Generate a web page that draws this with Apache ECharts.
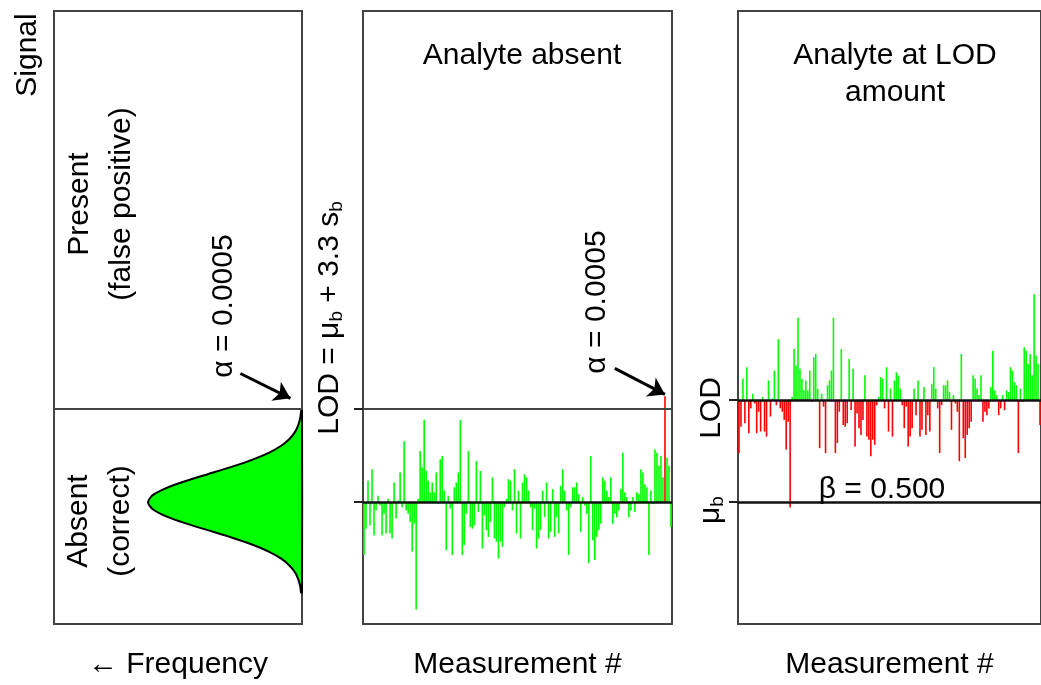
<!DOCTYPE html>
<html>
<head>
<meta charset="utf-8">
<script src="https://cdn.jsdelivr.net/npm/echarts@6/dist/echarts.min.js"></script>
<style>
html, body { margin: 0; padding: 0; background: #fff; }
#main { width: 1041px; height: 685px; }
</style>
</head>
<body>
<div id="main"></div>
<script>
// blank measurements, in units of s_b, relative to mu_b
var measurements = [
  -1.87, -0.94, 0.76, -0.82, 1.17, -1.17, -0.29, 0.23, -0.12, -1.17,
  -0.41, -1.11, 0.12, -1.11, -1.29, 0.70, -0.58, 0.06, 1.05, -0.18,
  2.16, -0.29, -0.41, -0.70, -1.75, -0.76, -3.80, 0.12, 1.81, 1.23,
  2.92, 1.11, 0.76, 0.35, 0.70, 0.35, 1.05, -0.06, 1.52, 1.64,
  0.41, -1.70, 0.23, -0.23, -1.87, 0.53, 0.70, 1.05, 2.92, -1.87,
  -1.52, -0.41, 1.81, -0.88, -0.94, -0.82, 1.46, -0.35, 1.11, -1.64,
  -0.47, -0.99, -1.23, -0.70, 0.88, -1.29, -1.40, -1.99, -1.40, -1.58,
  -0.18, 0.12, 0.82, 0.76, -0.29, 1.17, -1.11, 0.41, -1.29, 0.70,
  0.99, 0.88, 0.41, -0.18, -0.99, -0.23, -1.64, -1.29, -0.99, 0.41,
  -0.53, 0.70, -1.29, -1.05, 0.47, -1.23, -0.53, -1.11, 0.58, 1.17,
  0.41, -0.29, -1.87, -0.18, 0.53, 0.53, 0.70, 0.29, -1.05, 0.18,
  -0.12, -0.41, -2.16, 1.64, -1.35, -2.05, -1.23, -0.99, -0.76, 0.88,
  0.76, 0.41, 0.18, 0.88, -0.76, -0.41, -0.53, -0.29, 0.47, 1.75,
  0.35, 0.18, -0.53, -0.29, 0.18, -0.35, 0.35, 0.29, 1.17, 1.05,
  0.64, 0.53, -1.87, 0.41, -0.06, 1.87, 1.75, 1.29, 1.64, 0.88,
  3.75, 1.58, 1.29, -0.88
];
var lodSigma = 3.3;     // LOD = mu_b + 3.3 s_b
var lodShift = 3.6;     // panel 3: mu_b line below the LOD line

// blank distribution (signal in s_b, relative frequency)
var curveSignal = [-3.2, -3, -2.75, -2.5, -2.25, -2, -1.75, -1.5, -1.25, -1, -0.75, -0.5, -0.25, 0,
                   0.25, 0.5, 0.75, 1, 1.25, 1.5, 1.75, 2, 2.25, 2.5, 2.75, 3, 3.25];
var curveFreq = [0.006, 0.011, 0.023, 0.044, 0.08, 0.135, 0.216, 0.325, 0.458, 0.607, 0.755, 0.882, 0.969, 1,
                 0.969, 0.882, 0.755, 0.607, 0.458, 0.325, 0.216, 0.135, 0.08, 0.044, 0.023, 0.011, 0.005];

var indices = measurements.map(function (v, i) { return i + 1; });

var FONT = '"Liberation Sans", Arial, sans-serif';
var GREEN = '#00ff00', RED = '#ff0000';

// layout: pixel per s_b and baselines
var gridTop = 11, gridBottom = 630, pxSigma = 28.5, meanY = 507, lodY3 = 404;
var y12 = { min: -(gridBottom - meanY) / pxSigma, max: (meanY - gridTop) / pxSigma };
var y3 = { min: -(gridBottom - lodY3) / pxSigma, max: (lodY3 - gridTop) / pxSigma };

var dom = document.getElementById('main');
var chart = echarts.init(dom, null, { renderer: 'canvas' });

function yAx(idx, r, ticks) {
    return {
        type: 'value', gridIndex: idx, min: r.min, max: r.max,
        axisLine: { show: false },
        axisLabel: { show: false },
        splitLine: { show: false },
        axisTick: ticks ? { show: true, customValues: ticks, length: 9, lineStyle: { color: '#222', width: 2 } } : { show: false }
    };
}
function xName(t) {
    return { name: t, nameLocation: 'middle', nameGap: 26, nameTextStyle: { fontSize: 30, fontFamily: FONT, color: '#000', verticalAlign: 'top' } };
}

var rich = {
    m: { fontSize: 30, fontFamily: FONT, color: '#000', lineHeight: 34, verticalAlign: 'middle' },
    s: { fontSize: 19, fontFamily: FONT, color: '#000', lineHeight: 20, verticalAlign: 'middle', padding: [14, 0, 0, 0] }
};
function vtext(x, y, text, useRich, lh) {
    var st = { text: text, x: 0, y: 0, align: 'center', verticalAlign: 'middle', fill: '#000', font: '30px ' + FONT, lineHeight: lh || 34 };
    if (useRich) st.rich = rich;
    return { type: 'text', x: x, y: y, rotation: Math.PI / 2, silent: true, style: st };
}
function htext(x, y, text, lh) {
    return { type: 'text', x: x, y: y, silent: true,
             style: { text: text, x: 0, y: 0, align: 'center', verticalAlign: 'middle', fill: '#000', font: '30px ' + FONT, lineHeight: lh || 34 } };
}

var arrowStyle = { color: '#000', width: 3, type: 'solid' };

var option = {
    animation: false,
    backgroundColor: '#fff',
    grid: [
        { left: 54, top: gridTop, width: 248, height: gridBottom - gridTop, show: true, borderColor: '#444', borderWidth: 2 },
        { left: 363, top: gridTop, width: 309, height: gridBottom - gridTop, show: true, borderColor: '#444', borderWidth: 2 },
        { left: 738, top: gridTop, width: 309, height: gridBottom - gridTop, show: true, borderColor: '#444', borderWidth: 2 }
    ],
    xAxis: [
        Object.assign({ type: 'value', gridIndex: 0, inverse: true, min: 0, max: 1.61,
            axisLine: { show: false }, axisTick: { show: false }, axisLabel: { show: false }, splitLine: { show: false } }, xName('\u2190 Frequency')),
        Object.assign({ type: 'category', gridIndex: 1, data: indices,
            axisLine: { show: false }, axisTick: { show: false }, axisLabel: { show: false } }, xName('Measurement #')),
        Object.assign({ type: 'category', gridIndex: 2, data: indices,
            axisLine: { show: false }, axisTick: { show: false }, axisLabel: { show: false } }, xName('Measurement #'))
    ],
    yAxis: [
        yAx(0, y12, null),
        yAx(1, y12, [0, lodSigma]),
        yAx(2, y3, [0, -lodShift])
    ],
    series: [
        {
            type: 'custom', xAxisIndex: 0, yAxisIndex: 0,
            data: curveSignal.map(function (s, i) { return [curveFreq[i], s]; }),
            renderItem: function (params, api) {
                if (params.dataIndex !== 0) return null;
                var pts = [api.coord([0, curveSignal[0]])];
                for (var i = 0; i < curveSignal.length; i++) pts.push(api.coord([curveFreq[i], curveSignal[i]]));
                pts.push(api.coord([0, curveSignal[curveSignal.length - 1]]));
                return { type: 'polygon', shape: { points: pts, smooth: 0.25 },
                         style: { fill: GREEN, stroke: '#000', lineWidth: 2 } };
            },
            markLine: {
                silent: true, symbol: ['none', 'none'], label: { show: false },
                data: [
                    { yAxis: lodSigma, lineStyle: { color: '#444', width: 2, type: 'solid' } },
                    [{ coord: [0.40, 4.56], symbol: 'none', lineStyle: arrowStyle },
                     { coord: [0.075, 3.68], symbol: 'arrow', symbolSize: 16 }]
                ]
            }
        },
        {
            type: 'bar', xAxisIndex: 1, yAxisIndex: 1, data: measurements, barWidth: 1.6,
            itemStyle: { color: function (p) { return p.value > lodSigma ? RED : GREEN; } },
            markLine: {
                silent: true, symbol: ['none', 'none'], label: { show: false },
                data: [
                    { yAxis: lodSigma, lineStyle: { color: '#444', width: 2, type: 'solid' } },
                    { yAxis: 0, lineStyle: { color: '#111', width: 2.5, type: 'solid' } },
                    [{ coord: [125, 4.74], symbol: 'none', lineStyle: arrowStyle },
                     { coord: [150, 3.82], symbol: 'arrow', symbolSize: 16 }]
                ]
            }
        },
        {
            type: 'bar', xAxisIndex: 2, yAxisIndex: 2, data: measurements, barWidth: 1.6,
            itemStyle: { color: function (p) { return p.value < 0 ? RED : GREEN; } },
            markLine: {
                silent: true, symbol: ['none', 'none'], label: { show: false },
                data: [
                    { yAxis: 0, lineStyle: { color: '#111', width: 2.5, type: 'solid' } },
                    { yAxis: -lodShift, lineStyle: { color: '#111', width: 2.5, type: 'solid' } }
                ]
            }
        }
    ],
    graphic: [
        vtext(28, 55, 'Signal'),
        vtext(101, 204, 'Present\n(false positive)', false, 42),
        vtext(100, 521, 'Absent\n(correct)', false, 42),
        vtext(224, 306, '\u03b1 = 0.0005'),
        vtext(330, 318, '{m|LOD = \u03bc}{s|b}{m| + 3.3 s}{s|b}', true),
        vtext(597, 302, '\u03b1 = 0.0005'),
        vtext(712, 408, 'LOD'),
        vtext(711, 510, '{m|\u03bc}{s|b}', true),
        htext(522, 56, 'Analyte absent'),
        htext(895, 74, 'Analyte at LOD\namount', 37),
        htext(882, 490, '\u03b2 = 0.500')
    ]
};

chart.setOption(option);
</script>
</body>
</html>
